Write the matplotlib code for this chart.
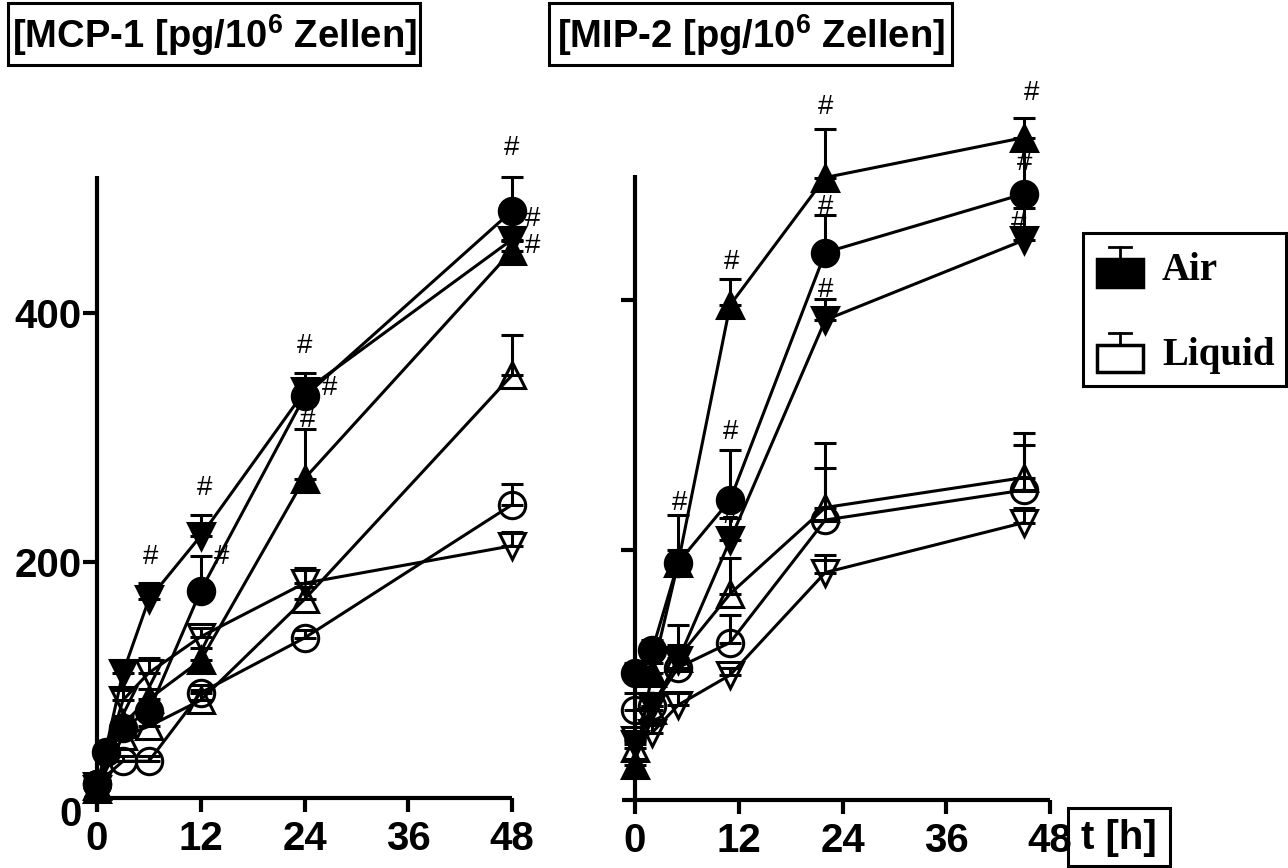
import matplotlib
matplotlib.use('Agg')
import matplotlib.pyplot as plt
from matplotlib.patches import Rectangle
from matplotlib.lines import Line2D
import numpy as np

plt.rcParams['font.family'] = ['Liberation Sans', 'DejaVu Sans']
plt.rcParams['font.weight'] = 'bold'
plt.rcParams['mathtext.fontset'] = 'custom'
plt.rcParams['mathtext.rm'] = 'Liberation Sans:bold'
plt.rcParams['mathtext.bf'] = 'Liberation Sans:bold'
plt.rcParams['mathtext.it'] = 'Liberation Sans:bold'

# ---------------- data ----------------
x_ticks = [0, 12, 24, 36, 48]
mcp_y_ticks = [0, 200, 400]
mip_y_ticks = [200, 400]

# MCP-1 (left panel)
mcp_t = [0, 3, 6, 12, 24, 48]
mcp_t_air_circle = [0, 1, 3, 6, 12, 24, 48]
mcp_air_circle = [22, 47, 67, 80, 177, 333, 482]
mcp_air_circle_sem = [4, 5, 5, 6, 28, 19, 27]
mcp_air_down = [18, 111, 170, 221, 337, 459]
mcp_air_down_sem = [3, 10, 13, 17, 6, 10]
mcp_air_up = [20, 70, 90, 121, 267, 450]
mcp_air_up_sem = [3, 6, 8, 10, 40, 8]
mcp_liq_circle = [22, 40, 40, 95, 139, 246]
mcp_liq_circle_sem = [3, 4, 4, 6, 6, 17]
mcp_liq_up = [18, 60, 68, 89, 170, 350]
mcp_liq_up_sem = [3, 5, 7, 8, 10, 32]
mcp_liq_down = [20, 89, 111, 140, 183, 213]
mcp_liq_down_sem = [3, 8, 12, 7, 12, 11]

# MIP-2 (right panel)
mip_t = [0, 2, 5, 11, 22, 45]
mip_air_circle = [102, 120, 190, 240, 438, 485]
mip_air_circle_sem = [8, 8, 38, 40, 30, 38]
mip_air_up = [28, 102, 190, 396, 498, 530]
mip_air_up_sem = [5, 8, 10, 21, 39, 16]
mip_air_down = [45, 75, 112, 208, 384, 448]
mip_air_down_sem = [5, 6, 8, 18, 17, 26]
mip_liq_circle = [72, 75, 106, 126, 224, 248]
mip_liq_circle_sem = [14, 8, 34, 22, 42, 36]
mip_liq_up = [42, 72, 114, 165, 234, 258]
mip_liq_up_sem = [5, 8, 10, 29, 52, 36]
mip_liq_down = [48, 54, 76, 100, 182, 222]
mip_liq_down_sem = [5, 6, 10, 6, 14, 12]

title_left = r'[MCP-1 [pg/10$^{6}$ Zellen]'
title_right = r'[MIP-2 [pg/10$^{6}$ Zellen]'
xlabel_text = 't [h]'
legend_labels = ['Air', 'Liquid']

# ---------------- figure ----------------
W, H = 1288, 868
fig = plt.figure(figsize=(W / 100, H / 100), dpi=100)


def fx(x):
    return x / W


def fy(y):
    return 1 - y / H


def make_axes(x0, sx, y0, sy, xlim, ylim):
    left = x0 + xlim[0] * sx
    right = x0 + xlim[1] * sx
    bottom = y0 - ylim[0] * sy
    top = y0 - ylim[1] * sy
    ax = fig.add_axes([left / W, 1 - bottom / H, (right - left) / W, (bottom - top) / H])
    ax.set_xlim(xlim)
    ax.set_ylim(ylim)
    ax.patch.set_visible(False)
    return ax


LW = 2.2
MS = 19


def plot_series(ax, t, v, sem, marker, filled, z):
    ax.errorbar(t, v, yerr=[np.zeros(len(sem)), sem], fmt='-', marker=marker,
                color='black', lw=LW, ms=MS,
                mfc='black' if filled else 'none', mec='black', mew=LW,
                ecolor='black', elinewidth=LW, capsize=8, capthick=3, zorder=z)


def hashmark(ax, t, v, sem, i, dx, dy):
    ax.annotate('#', xy=(t[i], v[i] + sem[i]), xytext=(dx, dy),
                textcoords='offset points', ha='center', va='center',
                fontsize=20, fontweight='normal', zorder=10)


def style_axes(ax, ybounds, xcross):
    for s in ['top', 'right']:
        ax.spines[s].set_visible(False)
    ax.spines['left'].set_position(('data', 0))
    ax.spines['left'].set_bounds(*ybounds)
    ax.spines['bottom'].set_position(('data', xcross))
    ax.spines['bottom'].set_bounds(-1.5, 48)
    for s in ['left', 'bottom']:
        ax.spines[s].set_linewidth(3)
        ax.spines[s].set_capstyle('butt')
    ax.set_xticks(x_ticks)
    ax.set_xticklabels([str(v) for v in x_ticks])
    ax.tick_params(axis='both', direction='out', length=10, width=3, labelsize=29)
    ax.tick_params(axis='x', pad=6)
    ax.tick_params(axis='y', pad=1)


# ---- left panel: MCP-1 ----
axL = make_axes(97, 8.646, 811, 1.245, (-3, 52), (-25, 580))
style_axes(axL, (0, 510), 10.4)
axL.set_yticks(mcp_y_ticks)
axL.set_yticklabels([str(v) for v in mcp_y_ticks])
axL.yaxis.get_major_ticks()[0].tick1line.set_visible(False)

plot_series(axL, mcp_t, mcp_liq_circle, mcp_liq_circle_sem, 'o', False, 3)
plot_series(axL, mcp_t, mcp_liq_up, mcp_liq_up_sem, '^', False, 3)
plot_series(axL, mcp_t, mcp_liq_down, mcp_liq_down_sem, 'v', False, 3)
plot_series(axL, mcp_t, mcp_air_up, mcp_air_up_sem, '^', True, 4)
plot_series(axL, mcp_t, mcp_air_down, mcp_air_down_sem, 'v', True, 4)
plot_series(axL, mcp_t_air_circle, mcp_air_circle, mcp_air_circle_sem, 'o', True, 5)

hashmark(axL, mcp_t, mcp_air_down, mcp_air_down_sem, 2, 1, 19)
hashmark(axL, mcp_t, mcp_air_down, mcp_air_down_sem, 3, 3, 19)
hashmark(axL, mcp_t_air_circle, mcp_air_circle, mcp_air_circle_sem, 4, 15, -1)
hashmark(axL, mcp_t_air_circle, mcp_air_circle, mcp_air_circle_sem, 5, 0, 19)
hashmark(axL, mcp_t, mcp_air_down, mcp_air_down_sem, 4, 18, -3)
hashmark(axL, mcp_t, mcp_air_up, mcp_air_up_sem, 4, 2, 6)
hashmark(axL, mcp_t_air_circle, mcp_air_circle, mcp_air_circle_sem, 6, 0, 21)
hashmark(axL, mcp_t, mcp_air_down, mcp_air_down_sem, 5, 15, 6)
hashmark(axL, mcp_t, mcp_air_up, mcp_air_up_sem, 5, 15, -4)

# ---- right panel: MIP-2 ----
axR = make_axes(635, 8.65, 800, 1.25, (-3, 52), (-25, 580))
style_axes(axR, (0, 500), 0)
axR.set_yticks(mip_y_ticks)
axR.tick_params(axis='y', labelleft=False)

plot_series(axR, mip_t, mip_liq_circle, mip_liq_circle_sem, 'o', False, 3)
plot_series(axR, mip_t, mip_liq_up, mip_liq_up_sem, '^', False, 3)
plot_series(axR, mip_t, mip_liq_down, mip_liq_down_sem, 'v', False, 3)
plot_series(axR, mip_t, mip_air_up, mip_air_up_sem, '^', True, 4)
plot_series(axR, mip_t, mip_air_down, mip_air_down_sem, 'v', True, 4)
plot_series(axR, mip_t, mip_air_circle, mip_air_circle_sem, 'o', True, 5)

hashmark(axR, mip_t, mip_air_up, mip_air_up_sem, 3, 1, 12)
hashmark(axR, mip_t, mip_air_up, mip_air_up_sem, 4, 0, 16)
hashmark(axR, mip_t, mip_air_up, mip_air_up_sem, 5, 5, 18)
hashmark(axR, mip_t, mip_air_circle, mip_air_circle_sem, 4, 0, 6)
hashmark(axR, mip_t, mip_air_circle, mip_air_circle_sem, 5, 0, -12)
hashmark(axR, mip_t, mip_air_down, mip_air_down_sem, 5, -4, -11)
hashmark(axR, mip_t, mip_air_circle, mip_air_circle_sem, 3, 0, 13)
hashmark(axR, mip_t, mip_air_circle, mip_air_circle_sem, 2, 1, 9)
hashmark(axR, mip_t, mip_air_down, mip_air_down_sem, 4, 0, 6)
hashmark(axR, mip_t, mip_air_down, mip_air_down_sem, 3, 0, 1)

# ---- titles in boxes ----
for (x1, x2, txt) in [(8, 420, title_left), (549, 952, title_right)]:
    fig.add_artist(Rectangle((fx(x1), fy(65)), fx(x2) - fx(x1), fy(3) - fy(65),
                             transform=fig.transFigure, fill=False, lw=2.2, color='black'))
    fig.text(fx((x1 + x2) / 2), fy(35), txt, ha='center', va='center', fontsize=27.5,
             fontweight='bold')

# ---- x label box ----
fig.add_artist(Rectangle((fx(1068), fy(866)), fx(1170) - fx(1068), fy(808) - fy(866),
                         transform=fig.transFigure, fill=False, lw=2.2, color='black'))
fig.text(fx(1119), fy(838), xlabel_text, ha='center', va='center', fontsize=29,
         fontweight='bold')

# ---- legend ----
fig.add_artist(Rectangle((fx(1083), fy(386)), fx(1286) - fx(1083), fy(233) - fy(386),
                         transform=fig.transFigure, fill=False, lw=2.2, color='black'))
for (ytop, ybot, filled, lab) in [(259, 287, True, legend_labels[0]),
                                   (345, 372, False, legend_labels[1])]:
    fig.add_artist(Rectangle((fx(1097), fy(ybot)), fx(1143) - fx(1097), fy(ytop) - fy(ybot),
                             transform=fig.transFigure, fill=filled,
                             facecolor='black', edgecolor='black', lw=2.5))
    fig.add_artist(Line2D([fx(1120), fx(1120)], [fy(ytop), fy(ytop - 12)],
                          transform=fig.transFigure, color='black', lw=2))
    fig.add_artist(Line2D([fx(1109), fx(1131)], [fy(ytop - 12), fy(ytop - 12)],
                          transform=fig.transFigure, color='black', lw=2))
    fig.text(fx(1162), fy(ybot - 7), lab, ha='left', va='baseline', fontsize=28,
             fontweight='bold', family=['Liberation Serif', 'DejaVu Serif'])

fig.savefig('out.png', dpi=100)
